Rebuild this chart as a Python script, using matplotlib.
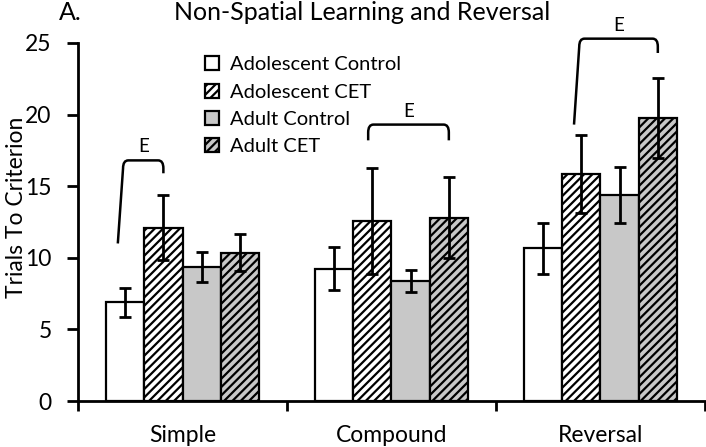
import numpy as np
import matplotlib
matplotlib.use('Agg')
import matplotlib.pyplot as plt
from matplotlib.path import Path
from matplotlib.patches import PathPatch

plt.rcParams['font.family'] = ['Lato', 'DejaVu Sans']
plt.rcParams['hatch.linewidth'] = 1.6

categories = ['Simple', 'Compound', 'Reversal']
groups = ['Adolescent Control', 'Adolescent CET', 'Adult Control', 'Adult CET']

means = {
    'Adolescent Control': [6.9, 9.25, 10.65],
    'Adolescent CET': [12.1, 12.55, 15.85],
    'Adult Control': [9.35, 8.35, 14.4],
    'Adult CET': [10.35, 12.8, 19.75],
}
sems = {
    'Adolescent Control': [1.0, 1.5, 1.75],
    'Adolescent CET': [2.25, 3.7, 2.75],
    'Adult Control': [1.05, 0.77, 1.95],
    'Adult CET': [1.3, 2.83, 2.77],
}

faces = ['white', 'white', '#c8c8c8', '#c8c8c8']
hatches = [None, '////', None, '////']

# brackets: category, from bar, to bar, left foot, top, right foot
br_cat = [0, 1, 2]
br_from = [0, 1, 1]
br_to = [1, 3, 3]
br_left = [11.0, 18.2, 19.3]
br_top = [16.8, 19.3, 25.3]
br_right = [15.9, 18.2, 24.3]

fig = plt.figure(figsize=(7.06, 4.47), dpi=100)
ax = fig.add_axes([0.1105, 0.1029, 0.888, 0.801])

bw = 0.183
start = 0.134
x = np.arange(len(categories))
for i, g in enumerate(groups):
    xs = x + start + bw * i + bw / 2
    ax.bar(xs, means[g], bw, color=faces[i], edgecolor='black', linewidth=1.6,
           hatch=hatches[i], label=g, zorder=2)
    ax.errorbar(xs, means[g], yerr=sems[g], fmt='none', ecolor='black',
                elinewidth=2, capsize=4, capthick=2, zorder=3)

def centre(c, b):
    return c + start + bw * b + bw / 2

for c, b0, b1, yl, yt, yr in zip(br_cat, br_from, br_to, br_left, br_top, br_right):
    x0 = centre(c, b0)
    x1 = centre(c, b1)
    if c != 1:
        xl_bot, xl_top = x0 - 0.035, x0 - 0.01
    else:
        xl_bot, xl_top = x0 - 0.02, x0 - 0.02
    r = 0.55
    dx = 0.025
    verts = [(xl_bot, yl), (xl_top, yt - r), (xl_top, yt), (xl_top + dx, yt),
             (x1 - dx, yt), (x1, yt), (x1, yt - r), (x1, yr)]
    codes = [Path.MOVETO, Path.LINETO, Path.CURVE3, Path.CURVE3,
             Path.LINETO, Path.CURVE3, Path.CURVE3, Path.LINETO]
    ax.add_patch(PathPatch(Path(verts, codes), fill=False, lw=1.8,
                           edgecolor='black', clip_on=False, zorder=4))
    ax.text((xl_top + x1) / 2, yt + 0.35, 'E', ha='center', va='bottom',
            fontsize=13.5, clip_on=False)

ax.set_xlim(0, 3)
ax.set_ylim(0, 25)
ax.set_yticks([0, 5, 10, 15, 20, 25])
ax.set_xticks([0, 1, 2, 3])
ax.set_xticklabels([])
ax.set_xticks(x + 0.5, minor=True)
ax.set_xticklabels(categories, minor=True, fontsize=16.5)
ax.tick_params(axis='x', which='minor', length=0, pad=17)
ax.tick_params(axis='x', which='major', length=7, width=2, direction='out')
ax.tick_params(axis='y', length=8, width=2, labelsize=16.5, pad=11)
for s in ['top', 'right']:
    ax.spines[s].set_visible(False)
for s in ['left', 'bottom']:
    ax.spines[s].set_linewidth(2)

ax.set_ylabel('Trials To Criterion', fontsize=16.5)
ax.yaxis.set_label_coords(-0.082, 0.542)
fig.text(0.513, 0.972, 'Non-Spatial Learning and Reversal', ha='center',
         va='center', fontsize=18)
fig.text(0.083, 0.972, 'A.', ha='left', va='center', fontsize=18)

leg = ax.legend(loc='upper left', bbox_to_anchor=(0.19, 0.985), frameon=False,
                fontsize=14.5, handlelength=0.7, handleheight=0.7,
                handletextpad=0.55, labelspacing=0.5, borderaxespad=0)

fig.savefig('out.png', dpi=100)
